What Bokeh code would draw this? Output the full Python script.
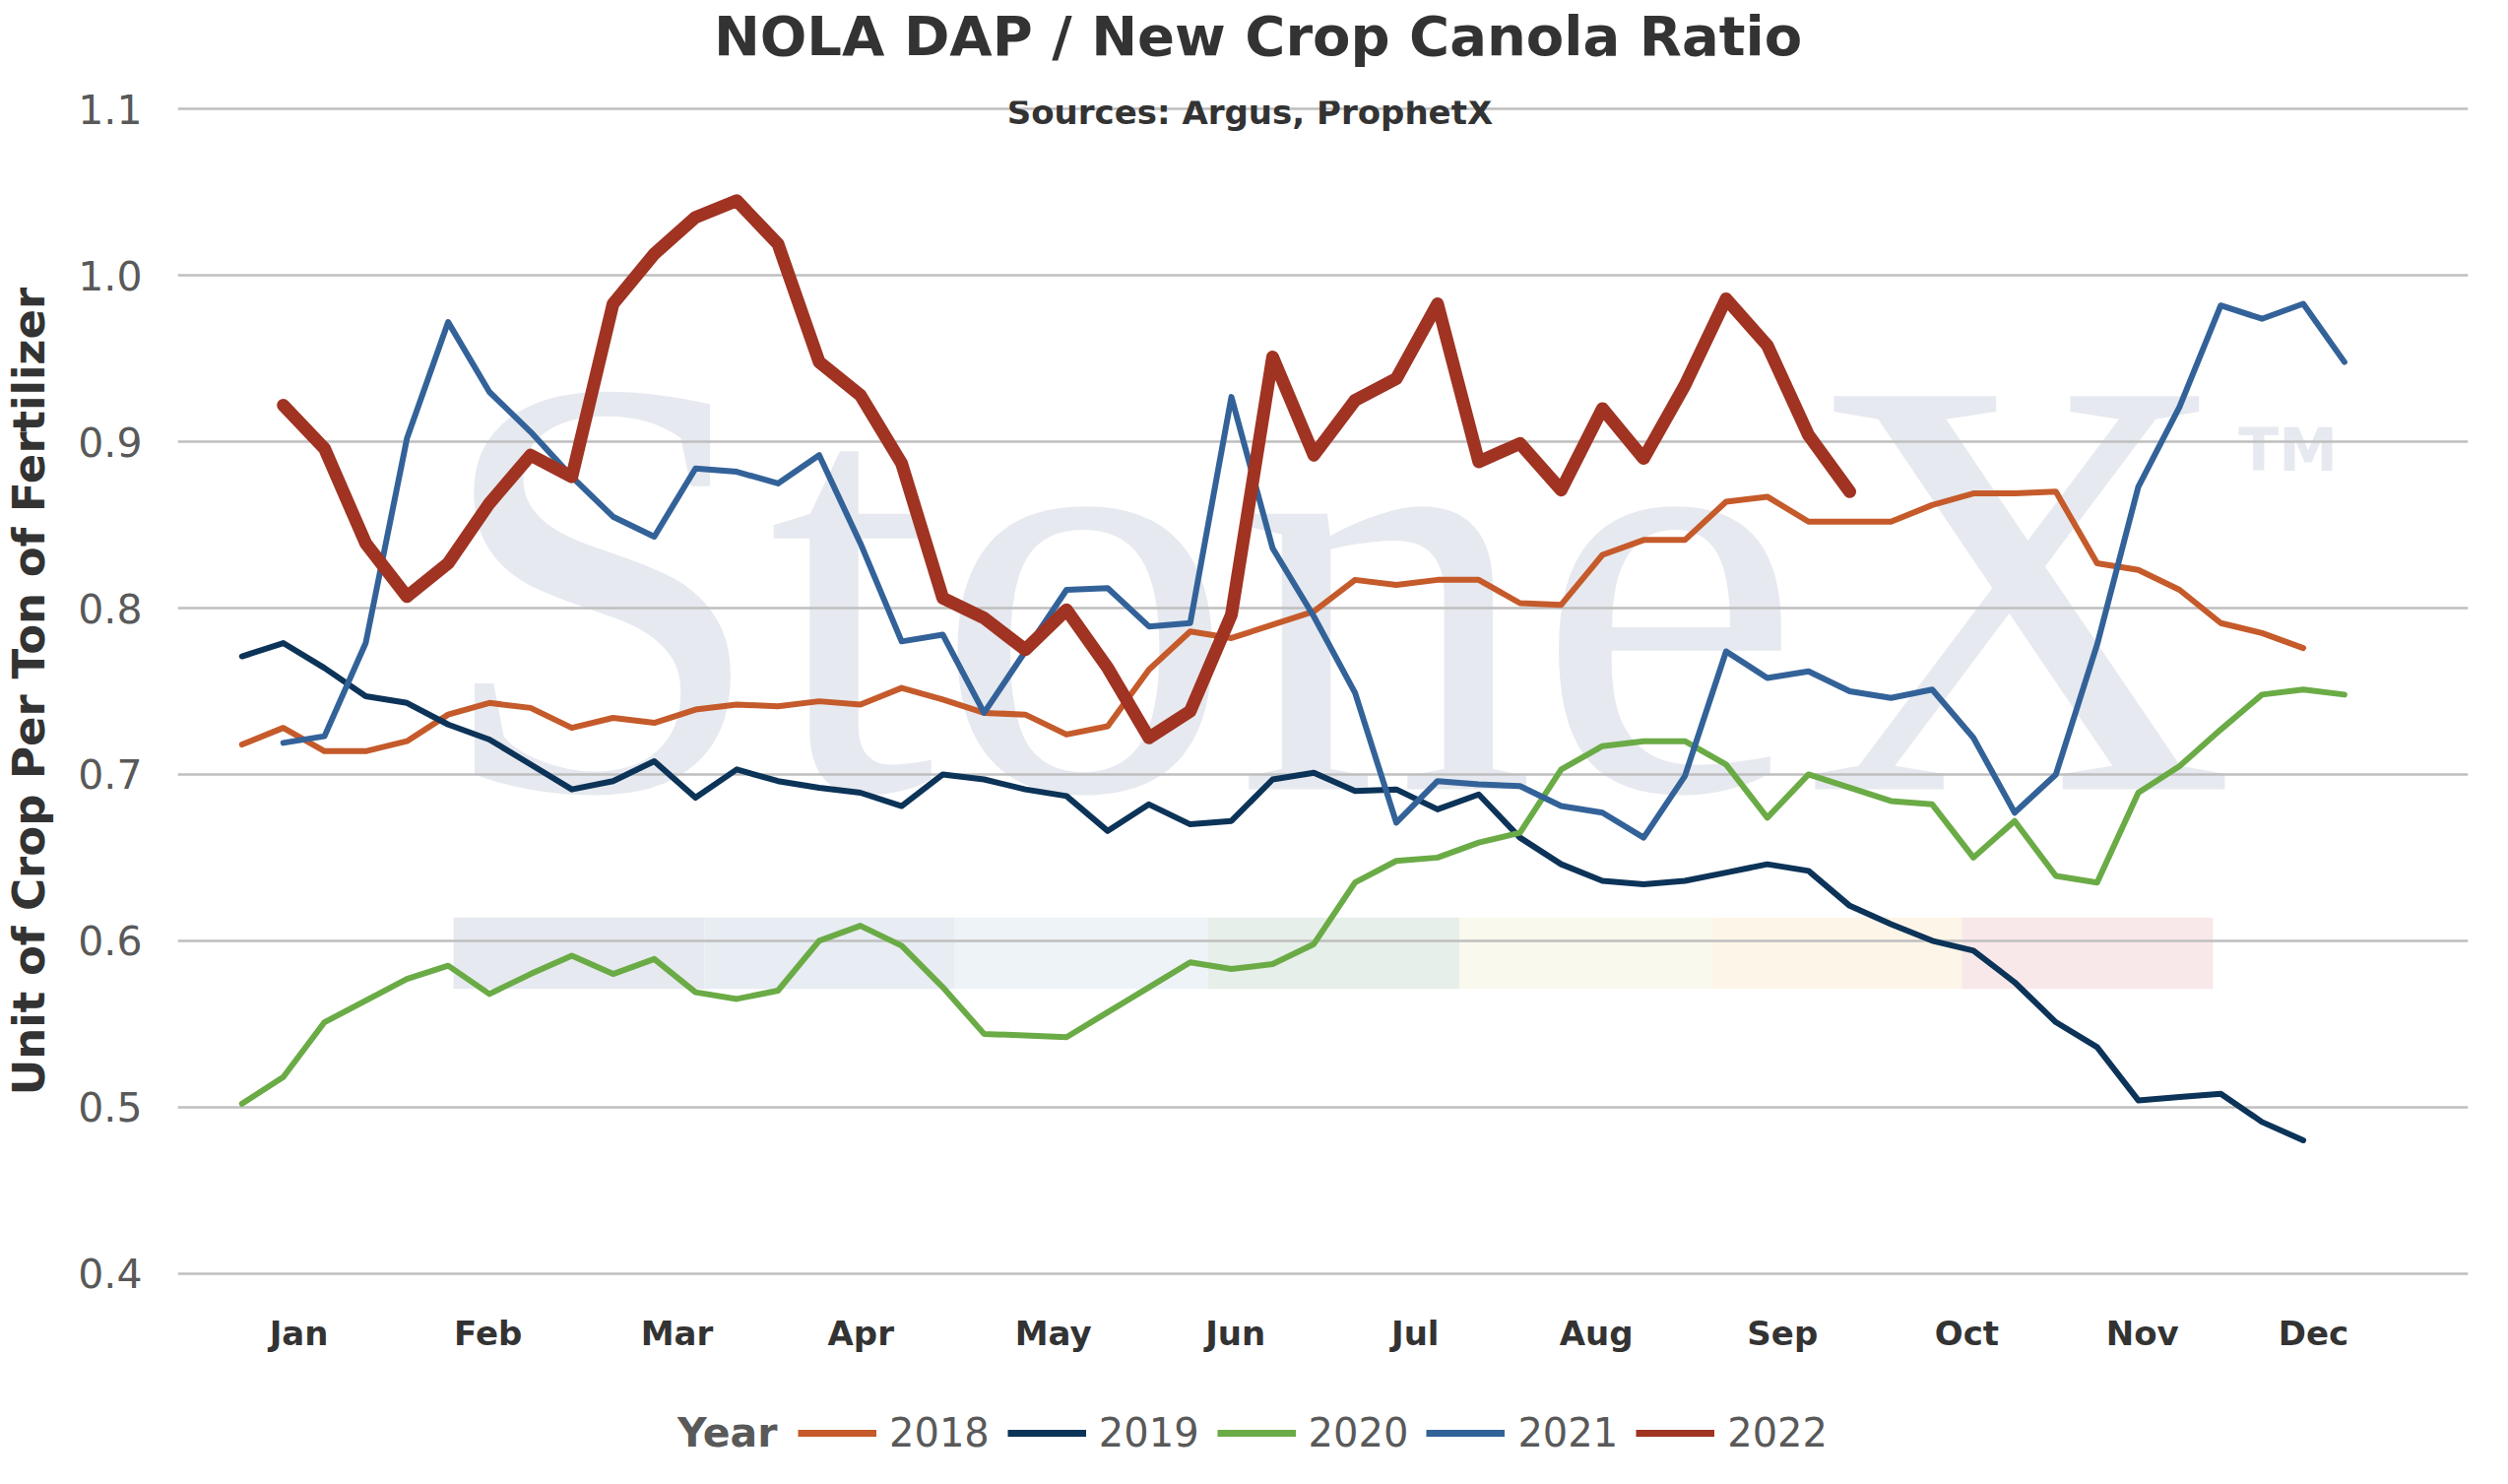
import numpy as np
from bokeh.core.properties import value
from bokeh.embed import file_html
from bokeh.layouts import column
from bokeh.models import FixedTicker, Label, Legend, NumeralTickFormatter, Range1d
from bokeh.plotting import figure
from bokeh.resources import INLINE

# week index of each observation (0..51)
weeks = list(range(52))
nan = float("nan")

y2018 = [0.718, 0.728, 0.714, 0.714, 0.720, 0.736, 0.743, 0.740, 0.728, 0.734,
         0.731, 0.739, 0.742, 0.741, 0.744, 0.742, 0.752, 0.745, 0.737, 0.736,
         0.724, 0.729, 0.763, 0.786, 0.782, 0.790, 0.798, 0.817, 0.814, 0.817,
         0.817, 0.803, 0.802, 0.832, 0.841, 0.841, 0.864, 0.867, 0.852, 0.852,
         0.852, 0.862, 0.869, 0.869, 0.870, 0.827, 0.823, 0.811, 0.791, 0.785,
         0.776, nan]
y2019 = [0.771, 0.779, 0.764, 0.747, 0.743, 0.730, 0.721, 0.706, 0.691, 0.696,
         0.708, 0.686, 0.703, 0.696, 0.692, 0.689, 0.681, 0.700, 0.697, 0.691,
         0.687, 0.666, 0.682, 0.670, 0.672, 0.697, 0.701, 0.690, 0.691, 0.679,
         0.688, 0.662, 0.646, 0.636, 0.634, 0.636, 0.641, 0.646, 0.642, 0.621,
         0.610, 0.600, 0.594, 0.575, 0.551, 0.536, 0.504, 0.506, 0.508, 0.491,
         0.480, nan]
y2020 = [0.502, 0.518, 0.551, 0.564, 0.577, 0.585, 0.568, 0.580, 0.591, 0.580,
         0.589, 0.569, 0.565, 0.570, 0.600, 0.609, 0.597, 0.572, 0.544, 0.543,
         0.542, 0.557, 0.572, 0.587, 0.583, 0.586, 0.598, 0.635, 0.648, 0.650,
         0.659, 0.665, 0.703, 0.717, 0.720, 0.720, 0.706, 0.674, 0.700, 0.692,
         0.684, 0.682, 0.650, 0.672, 0.639, 0.635, 0.689, 0.705, 0.727, 0.748,
         0.751, 0.748]
y2021 = [nan, 0.719, 0.723, 0.779, 0.902, 0.972, 0.930, 0.906, 0.879, 0.855,
         0.843, 0.884, 0.882, 0.875, 0.892, 0.839, 0.780, 0.784, 0.737, 0.774,
         0.811, 0.812, 0.789, 0.791, 0.927, 0.836, 0.795, 0.749, 0.671, 0.696,
         0.694, 0.693, 0.681, 0.677, 0.662, 0.699, 0.774, 0.758, 0.762, 0.750,
         0.746, 0.751, 0.722, 0.677, 0.700, 0.778, 0.873, 0.921, 0.982, 0.974,
         0.983, 0.948]
y2022 = [nan, 0.922, 0.896, 0.839, 0.807, 0.827, 0.863, 0.892, 0.879, 0.983,
         1.013, 1.035, 1.045, 1.019, 0.948, 0.928, 0.887, 0.806, 0.794, 0.775,
         0.799, 0.764, 0.722, 0.738, 0.796, 0.951, 0.892, 0.925, 0.938, 0.983,
         0.888, 0.899, 0.871, 0.920, 0.890, 0.934, 0.986, 0.958, 0.904, 0.870] + [nan] * 12

years = ["2018", "2019", "2020", "2021", "2022"]
series = [y2018, y2019, y2020, y2021, y2022]
colors = ["#C55A2B", "#0C3358", "#6AAB46", "#336299", "#A03322"]
widths = [6, 6, 6, 6, 13]

month_names = ["Jan", "Feb", "Mar", "Apr", "May", "Jun",
               "Jul", "Aug", "Sep", "Oct", "Nov", "Dec"]
month_pos = [1.38, 5.97, 10.55, 15.01, 19.68, 24.10,
             28.46, 32.85, 37.37, 41.84, 46.10, 50.25]
y_ticks = [0.4, 0.5, 0.6, 0.7, 0.8, 0.9, 1.0, 1.1]

# watermark (StoneX logo) pieces
band_left = [5.13, 11.22, 17.29, 23.43, 29.54, 35.65, 41.72]
band_right = [11.22, 17.29, 23.43, 29.54, 35.65, 41.72, 47.81]
band_colors = ["#E6E9EF", "#E8ECF3", "#EEF3F8", "#E6EFE9", "#F9F9EE", "#FDF5E8", "#F8E8E9"]

FONT = "DejaVu Sans"
W = 2531


def blank(height):
    # plain strip for the heading and the legend (its frame lines up with the chart's)
    f = figure(width=W, height=height, output_backend="svg", toolbar_location=None,
               x_range=Range1d(0, 1), y_range=Range1d(0, height),
               x_axis_location=None, y_axis_location=None,
               min_border=0, min_border_left=0, min_border_right=0,
               min_border_top=0, min_border_bottom=0)
    f.grid.visible = False
    f.outline_line_color = None
    f.title.visible = False
    return f


# heading
head = blank(80)
head.add_layout(Label(x=1097, y=44, x_units="screen", text="NOLA DAP / New Crop Canola Ratio",
                      text_font=FONT, text_font_size="56px", text_font_style="bold",
                      text_color="#333333", text_align="center", text_baseline="middle"))

# main chart
p = figure(width=W, height=1321, output_backend="svg", toolbar_location=None,
           x_range=Range1d(-1.56, 54.0), y_range=Range1d(0.395, 1.105),
           min_border_left=171, min_border_right=25, min_border_top=22, min_border_bottom=100)
p.title.visible = False
p.outline_line_color = None

# watermark behind the grid
p.quad(left=band_left, right=band_right, bottom=0.571, top=0.614,
       fill_color=band_colors, line_color=None, level="image")
p.text(x=[4.65], y=[0.813], text=["StoneX"], text_font=value("Liberation Serif"),
       text_font_size="610px", text_color="#E6E9EF", text_baseline="alphabetic",
       level="image")
p.text(x=[48.43], y=[0.895], text=["TM"], text_font=value(FONT), text_font_style="bold",
       text_font_size="60px", text_color="#E6E9EF", text_baseline="alphabetic",
       level="image")

for ys, c, w in zip(series, colors, widths):
    p.line(weeks, np.array(ys, dtype=float), line_color=c, line_width=w,
           line_join="round", line_cap="round")

p.xaxis.ticker = FixedTicker(ticks=month_pos)
p.xaxis.major_label_overrides = {pos: name for pos, name in zip(month_pos, month_names)}
p.xaxis.axis_line_color = None
p.xaxis.major_tick_line_color = None
p.xaxis.minor_tick_line_color = None
p.xaxis.major_label_text_font = FONT
p.xaxis.major_label_text_font_size = "34px"
p.xaxis.major_label_text_font_style = "bold"
p.xaxis.major_label_text_color = "#333333"
p.xaxis.major_label_standoff = 26
p.xgrid.grid_line_color = None

p.yaxis.ticker = FixedTicker(ticks=y_ticks)
p.yaxis.formatter = NumeralTickFormatter(format="0.0")
p.yaxis.axis_line_color = None
p.yaxis.major_tick_line_color = None
p.yaxis.minor_tick_line_color = None
p.yaxis.major_label_text_font = FONT
p.yaxis.major_label_text_font_size = "41px"
p.yaxis.major_label_text_color = "#595959"
p.yaxis.major_label_standoff = 30
p.yaxis.axis_label = "Unit of Crop Per Ton of Fertilizer"
p.yaxis.axis_label_text_font = FONT
p.yaxis.axis_label_text_font_size = "45px"
p.yaxis.axis_label_text_font_style = "bold"
p.yaxis.axis_label_text_color = "#333333"
p.yaxis.axis_label_standoff = 20
p.ygrid.grid_line_color = "#BFBFBF"
p.ygrid.grid_line_width = 2.5

# subtitle sits on the top grid line
p.add_layout(Label(x=24.45, y=1.098, text="Sources: Argus, ProphetX", text_font=FONT,
                   text_font_size="34px", text_font_style="bold", text_color="#333333",
                   text_align="center", text_baseline="middle"))

# legend strip
foot = blank(90)
items = []
for yr, c in zip(years, colors):
    swatch = foot.line([nan], [nan], line_color=c, line_width=7)
    items.append((yr, [swatch]))
legend = Legend(items=items, orientation="horizontal", location=(630, 12),
                label_text_font=FONT, label_text_font_size="40px", label_text_color="#595959",
                glyph_width=80, glyph_height=48, label_height=48, label_standoff=13,
                spacing=18, padding=0, margin=0,
                border_line_alpha=0, background_fill_alpha=0)
foot.add_layout(legend, "center")
foot.add_layout(Label(x=609, y=37, x_units="screen", text="Year", text_font=FONT,
                      text_font_size="41px", text_font_style="bold", text_color="#595959",
                      text_align="right", text_baseline="middle"))

layout = column(head, p, foot, spacing=0)
open("out.html", "w").write(file_html(layout, INLINE))
